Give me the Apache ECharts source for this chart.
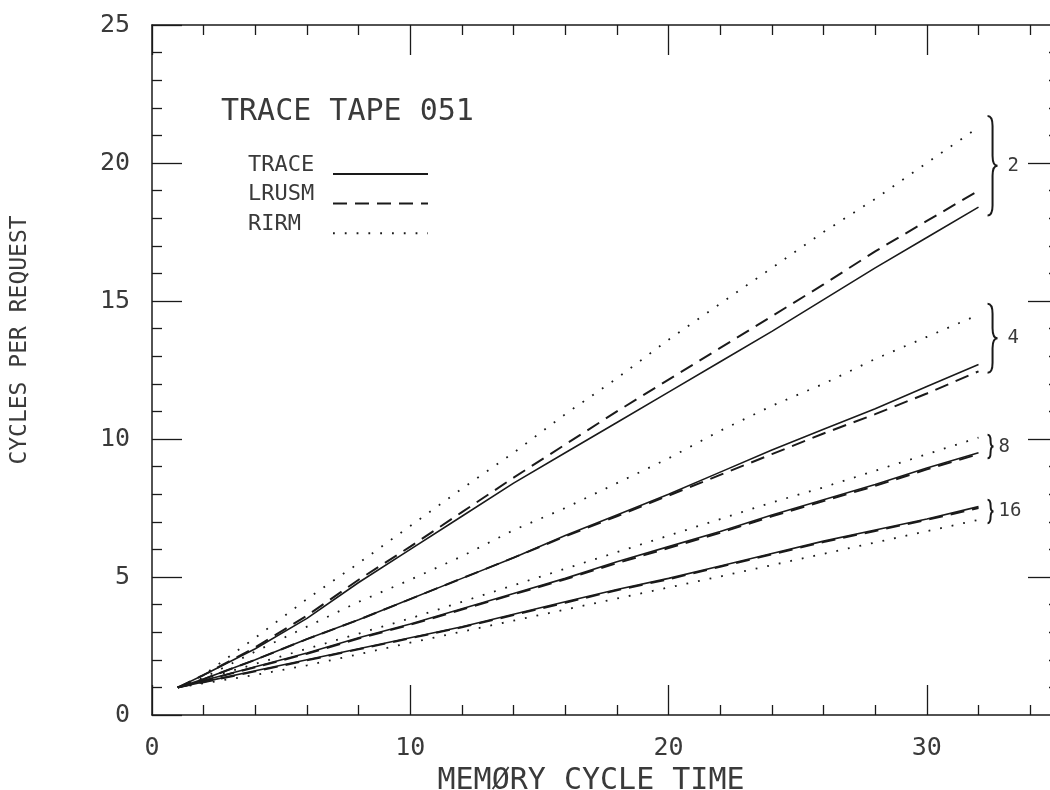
<!DOCTYPE html>
<html>
<head>
<meta charset="utf-8">
<script src="https://cdn.jsdelivr.net/npm/echarts@6/dist/echarts.min.js"></script>
<style>
html,body{margin:0;padding:0;background:#fff;}
#chart{width:1050px;height:790px;}
</style>
</head>
<body>
<div id="chart"></div>
<script>
// ---- data ----
const xValues = [1, 2, 4, 6, 8, 10, 12, 14, 16, 18, 20, 22, 24, 26, 28, 30, 32];

const trace2  = [1, 1.45, 2.4, 3.5, 4.8, 6.0, 7.2, 8.4, 9.5, 10.6, 11.7, 12.8, 13.9, 15.05, 16.2, 17.3, 18.4];
const lrusm2  = [1, 1.45, 2.45, 3.6, 4.9, 6.1, 7.35, 8.6, 9.8, 11.0, 12.15, 13.3, 14.45, 15.6, 16.8, 17.9, 19.0];
const rirm2   = [1, 1.45, 2.8, 4.2, 5.5, 6.85, 8.2, 9.5, 10.9, 12.2, 13.6, 14.9, 16.2, 17.5, 18.7, 20.0, 21.3];

const trace4  = [1, 1.3, 2.0, 2.75, 3.45, 4.2, 4.95, 5.7, 6.5, 7.25, 8.0, 8.8, 9.6, 10.35, 11.1, 11.9, 12.7];
const lrusm4  = [1, 1.3, 2.0, 2.75, 3.45, 4.2, 4.95, 5.7, 6.47, 7.2, 7.95, 8.7, 9.45, 10.2, 10.9, 11.65, 12.45];
const rirm4   = [1, 1.35, 2.3, 3.2, 4.1, 4.9, 5.75, 6.7, 7.5, 8.4, 9.3, 10.3, 11.2, 12.0, 12.9, 13.7, 14.5];

const trace8  = [1, 1.25, 1.75, 2.25, 2.8, 3.3, 3.85, 4.4, 4.95, 5.55, 6.1, 6.65, 7.25, 7.8, 8.35, 8.95, 9.5];
const lrusm8  = [1, 1.24, 1.73, 2.22, 2.77, 3.27, 3.82, 4.37, 4.92, 5.5, 6.05, 6.6, 7.2, 7.75, 8.3, 8.9, 9.45];
const rirm8   = [1, 1.3, 1.85, 2.4, 2.95, 3.5, 4.1, 4.7, 5.3, 5.9, 6.5, 7.1, 7.7, 8.25, 8.85, 9.45, 10.05];

const trace16 = [1, 1.2, 1.6, 2.0, 2.4, 2.8, 3.2, 3.65, 4.1, 4.55, 4.95, 5.4, 5.85, 6.3, 6.7, 7.1, 7.55];
const lrusm16 = [1, 1.19, 1.58, 1.98, 2.38, 2.78, 3.18, 3.62, 4.07, 4.52, 4.92, 5.37, 5.82, 6.27, 6.67, 7.07, 7.5];
const rirm16  = [1, 1.15, 1.45, 1.8, 2.2, 2.62, 3.02, 3.42, 3.82, 4.22, 4.62, 5.02, 5.43, 5.84, 6.25, 6.66, 7.07];

const braceLabels = ['2', '4', '8', '16'];
const braceX      = [32.35, 32.35, 32.35, 32.35];
const braceTop    = [21.7, 14.9, 10.15, 7.8];
const braceBottom = [18.1, 12.4, 9.3, 6.95];

const xMajorTicks = [0, 10, 20, 30];
const xMinorTicks = [2, 4, 6, 8, 12, 14, 16, 18, 22, 24, 26, 28, 32, 34];
const yMajorTicks = [0, 5, 10, 15, 20, 25];
const yMinorTicks = [1, 2, 3, 4, 6, 7, 8, 9, 11, 12, 13, 14, 16, 17, 18, 19, 21, 22, 23, 24];
const yRightMajorTicks = [5, 10, 15, 20];

const titleText = 'TRACE TAPE 051';
const xName = 'MEMØRY CYCLE TIME';
const yName = 'CYCLES PER REQUEST';

// ---- chart ----
const FONT = 'DejaVu Sans Mono';
const INK = '#1a1a1a';
const TXT = '#3a3a3a';

function pair(ys) { return xValues.map((x, i) => [x, ys[i]]); }

const solid  = { color: INK, width: 1.6, type: 'solid' };
const dashed = { color: INK, width: 2, type: [14, 8] };
const dotted = { color: INK, width: 1.8, type: [1.8, 10] };

function lineSeries(name, ys, style) {
  return {
    type: 'line', name: name, data: pair(ys), symbol: 'none', showSymbol: false,
    lineStyle: style, itemStyle: { color: INK }, silent: true, animation: false, z: 3
  };
}

const axisBase = { type: 'value', splitLine: { show: false }, animation: false };

function xAx(pos, ticks, len, labels, line) {
  return Object.assign({}, axisBase, {
    position: pos, min: 0, max: 35,
    axisLine: { show: line, onZero: false, lineStyle: { color: INK, width: 1.5 } },
    axisTick: { show: true, inside: true, length: len, customValues: ticks, lineStyle: { color: INK, width: 1.3 } },
    axisLabel: labels ? { show: true, customValues: labels, color: TXT, fontFamily: FONT, fontSize: 25, margin: 21 } : { show: false }
  });
}
function yAx(pos, ticks, len, labels, line) {
  return Object.assign({}, axisBase, {
    position: pos, min: 0, max: 25,
    axisLine: { show: line, onZero: false, lineStyle: { color: INK, width: 1.5 } },
    axisTick: { show: true, inside: true, length: len, customValues: ticks, lineStyle: { color: INK, width: 1.3 } },
    axisLabel: labels ? { show: true, customValues: labels, color: TXT, fontFamily: FONT, fontSize: 25, margin: 22 } : { show: false }
  });
}

const xAxes = [
  Object.assign(xAx('bottom', xMajorTicks, 30, xMajorTicks, true), {
    name: xName, nameLocation: 'middle', nameGap: 41,
    nameTextStyle: { color: TXT, fontFamily: FONT, fontSize: 30, padding: [0, 26, 0, 0] }
  }),
  xAx('bottom', xMinorTicks, 10, null, false),
  xAx('top', xMajorTicks, 30, null, true),
  xAx('top', xMinorTicks, 10, null, false)
];
const yAxes = [
  Object.assign(yAx('left', yMajorTicks, 30, yMajorTicks, true), {
    name: yName, nameLocation: 'middle', nameGap: 120, nameRotate: 90,
    nameTextStyle: { color: TXT, fontFamily: FONT, fontSize: 23, padding: [0, 0, 0, 60] }
  }),
  yAx('left', yMinorTicks, 10, null, false),
  yAx('right', yRightMajorTicks, 28, null, true),
  yAx('right', yMinorTicks, 7, null, false)
];

const braceData = braceLabels.map((l, i) => [braceX[i], braceTop[i], braceBottom[i], l]);

const braceSeries = {
  type: 'custom', name: 'braces', silent: true, animation: false, z: 4,
  data: braceData,
  encode: { x: 0, y: [1, 2] },
  renderItem: function (params, api) {
    const p0 = api.coord([api.value(0), api.value(1)]);
    const p1 = api.coord([api.value(0), api.value(2)]);
    const label = braceLabels[params.dataIndex];
    const x0 = p0[0], y0 = p0[1], y1 = p1[1];
    const h = y1 - y0;
    const w = h > 40 ? 10 : 6;
    const q = Math.min(w, h / 4);
    const ym = (y0 + y1) / 2;
    const xm = x0 + w / 2;
    const d = 'M' + x0 + ' ' + y0 +
      ' Q' + xm + ' ' + y0 + ' ' + xm + ' ' + (y0 + q) +
      ' L' + xm + ' ' + (ym - q) +
      ' Q' + xm + ' ' + ym + ' ' + (x0 + w) + ' ' + ym +
      ' Q' + xm + ' ' + ym + ' ' + xm + ' ' + (ym + q) +
      ' L' + xm + ' ' + (y1 - q) +
      ' Q' + xm + ' ' + y1 + ' ' + x0 + ' ' + y1;
    return {
      type: 'group',
      children: [
        { type: 'path', shape: { pathData: d }, style: { stroke: INK, lineWidth: 2, fill: null } },
        { type: 'text', x: x0 + w + (h > 40 ? 10 : 5), y: ym,
          style: { text: label, fill: TXT, font: '19px ' + FONT, align: 'left', verticalAlign: 'middle' } }
      ]
    };
  }
};

const series = [
  lineSeries('RIRM', rirm2, dotted),
  lineSeries('LRUSM', lrusm2, dashed),
  lineSeries('TRACE', trace2, solid),
  lineSeries('RIRM', rirm4, dotted),
  lineSeries('LRUSM', lrusm4, dashed),
  lineSeries('TRACE', trace4, solid),
  lineSeries('RIRM', rirm8, dotted),
  lineSeries('LRUSM', lrusm8, dashed),
  lineSeries('TRACE', trace8, solid),
  lineSeries('RIRM', rirm16, dotted),
  lineSeries('LRUSM', lrusm16, dashed),
  lineSeries('TRACE', trace16, solid),
  braceSeries
];

const option = {
  backgroundColor: '#ffffff',
  animation: false,
  title: {
    text: titleText, left: 216, top: 92,
    textStyle: { color: TXT, fontFamily: FONT, fontSize: 30, fontWeight: 'normal' }
  },
  legend: {
    data: ['TRACE', 'LRUSM', 'RIRM'],
    orient: 'vertical', left: 248, top: 154, padding: 0,
    align: 'right', itemWidth: 95, itemHeight: 14, itemGap: 4,
    selectedMode: false,
    itemStyle: { opacity: 0 },
    formatter: '{t|{name}}',
    textStyle: {
      color: TXT, fontFamily: FONT, fontSize: 22, padding: [0, 0, 18, 0],
      rich: { t: { width: 80, align: 'left', fontFamily: FONT, fontSize: 22, color: TXT } }
    }
  },
  grid: { left: 152, top: 25, right: -6, bottom: 75, containLabel: false, outerBoundsMode: 'none' },
  xAxis: xAxes,
  yAxis: yAxes,
  series: series
};

const chart = echarts.init(document.getElementById('chart'), null, { renderer: 'canvas' });
chart.setOption(option);
</script>
</body>
</html>
